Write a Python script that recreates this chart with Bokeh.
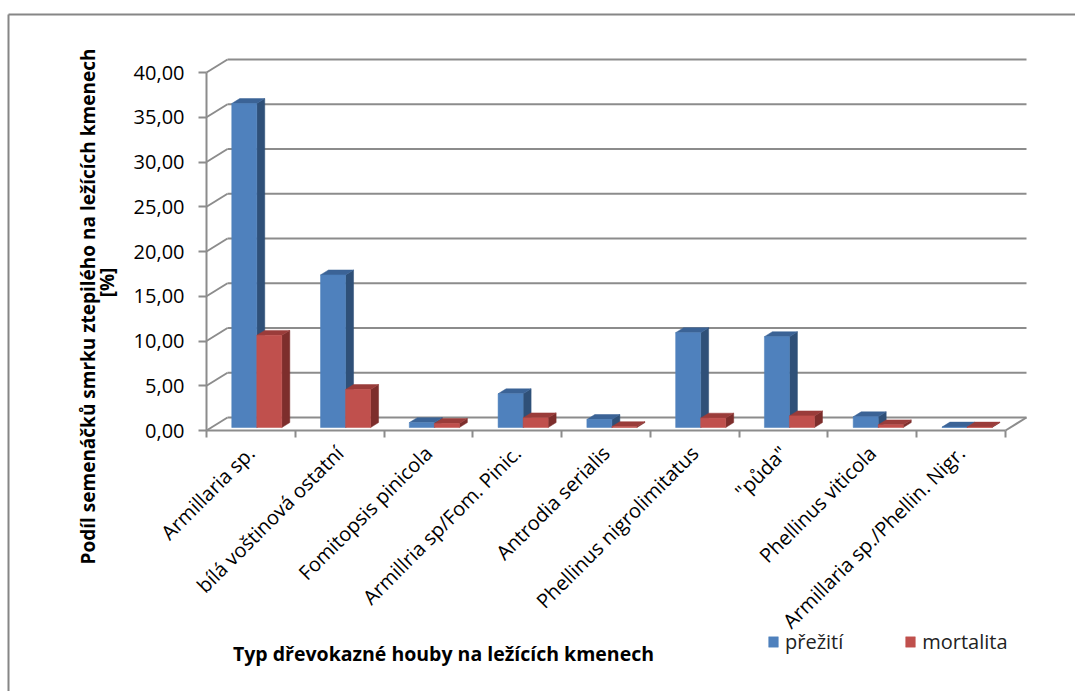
import math

from bokeh.embed import file_html
from bokeh.models import (ColumnDataSource, FixedTicker, Label, Legend,
                          LegendItem, LinearAxis, Range1d)
from bokeh.plotting import figure
from bokeh.resources import INLINE

# ---- data -----------------------------------------------------------------
categories = [
    "Armillaria sp.",
    "bílá voštinová ostatní",
    "Fomitopsis pinicola",
    "Armillria sp/Fom. Pinic.",
    "Antrodia serialis",
    "Phellinus nigrolimitatus",
    "\"půda\"",
    "Phellinus viticola",
    "Armillaria sp./Phellin. Nigr.",
]
prezili = [36.2, 17.05, 0.55, 3.77, 0.9, 10.6, 10.15, 1.2, 0.05]
mortalita = [10.3, 4.25, 0.45, 1.08, 0.1, 1.05, 1.3, 0.3, 0.05]
series_names = ["přežití", "mortalita"]
y_ticks = [0, 5, 10, 15, 20, 25, 30, 35, 40]
y_tick_labels = ["0,00", "5,00", "10,00", "15,00", "20,00",
                 "25,00", "30,00", "35,00", "40,00"]

# ---- layout (pixels) ---------------------------------------------------------
W, H = 1075, 691
AX_X, AX_Y = 206, 430          # corner of the value and category axes
AXIS_TOP_PX = 72               # pixel row of the top value tick
CAT_RIGHT_PX = 1005            # end of the category axis
n = len(categories)
ppx = (CAT_RIGHT_PX - AX_X) / n            # px per category
ppy = (AX_Y - AXIS_TOP_PX) / y_ticks[-1]   # px per value unit

DX, DY = 21 / ppx, 13 / ppy               # depth of the 3-D box
BAR_D0, BAR_D1 = 0.23, 0.61               # bar depth span (fraction of box)
BAR_OFF, BAR_W = 0.23, 0.282              # bar offset / width in a category

GRID = "#8c8c8c"
FONT = "Open Sans"
BLUE = ("#4f81bd", "#3b6396", "#2f5078")  # front, top, side
RED = ("#c0504d", "#9a3c3a", "#7d2e2c")


def xd(px):
    return (px - AX_X) / ppx


def yd(py):
    return (AX_Y - py) / ppy


# the plotting frame covers the whole canvas; axes sit at fixed data locations
p = figure(width=W, height=H, x_range=Range1d(xd(0), xd(W)),
           y_range=Range1d(yd(H), yd(0)), x_axis_type=None, y_axis_type=None,
           output_backend="svg", toolbar_location=None, min_border=0,
           min_border_left=0, min_border_right=0, min_border_top=0,
           min_border_bottom=0)
p.outline_line_color = None
p.background_fill_color = "white"
p.border_fill_color = "white"

# ---- chart border ----------------------------------------------------------
p.segment(x0=[xd(8), xd(8)], y0=[yd(14), yd(14)], x1=[xd(W + 10), xd(8)],
          y1=[yd(14), yd(H + 10)], line_color="#868686", line_width=2)

# ---- walls of the 3-D box --------------------------------------------------
back = ColumnDataSource(dict(
    x0=[DX] * len(y_ticks), x1=[n + DX] * len(y_ticks),
    y=[v + DY for v in y_ticks]))
p.segment(x0="x0", y0="y", x1="x1", y1="y", source=back,
          line_color=GRID, line_width=2)
side = ColumnDataSource(dict(
    x0=[0] * len(y_ticks), y0=y_ticks,
    x1=[DX] * len(y_ticks), y1=[v + DY for v in y_ticks]))
p.segment(x0="x0", y0="y0", x1="x1", y1="y1", source=side,
          line_color=GRID, line_width=2)
p.segment(x0=[n], y0=[0], x1=[n + DX], y1=[DY], line_color=GRID, line_width=2)


# ---- 3-D bars --------------------------------------------------------------
def bar_faces(values, slot):
    ox, oy = BAR_D0 * DX, BAR_D0 * DY
    ddx, ddy = (BAR_D1 - BAR_D0) * DX, (BAR_D1 - BAR_D0) * DY
    front = dict(left=[], right=[], bottom=[], top=[])
    tops = dict(xs=[], ys=[])
    sides = dict(xs=[], ys=[])
    for i, v in enumerate(values):
        xl = i + BAR_OFF + slot * BAR_W + ox
        xr = xl + BAR_W
        y0, y1 = oy, v + oy
        front["left"].append(xl)
        front["right"].append(xr)
        front["bottom"].append(y0)
        front["top"].append(y1)
        tops["xs"].append([xl, xr, xr + ddx, xl + ddx])
        tops["ys"].append([y1, y1, y1 + ddy, y1 + ddy])
        sides["xs"].append([xr, xr, xr + ddx, xr + ddx])
        sides["ys"].append([y0, y1, y1 + ddy, y0 + ddy])
    return front, tops, sides


renderers = []
for slot, (vals, cols) in enumerate([(prezili, BLUE), (mortalita, RED)]):
    front, tops, sides = bar_faces(vals, slot)
    p.patches(xs="xs", ys="ys", source=ColumnDataSource(sides),
              fill_color=cols[2], line_color=cols[2], line_width=0.5)
    p.patches(xs="xs", ys="ys", source=ColumnDataSource(tops),
              fill_color=cols[1], line_color=cols[1], line_width=0.5)
    r = p.quad(left="left", right="right", bottom="bottom", top="top",
               source=ColumnDataSource(front), fill_color=cols[0],
               line_color=cols[0], line_width=0.5)
    renderers.append(r)

# ---- axes ------------------------------------------------------------------
yax = LinearAxis(fixed_location=0,
                 ticker=FixedTicker(ticks=y_ticks, minor_ticks=[]),
                 bounds=(0, y_ticks[-1]),
                 major_label_overrides=dict(zip(y_ticks, y_tick_labels)))
yax.axis_line_color = GRID
yax.axis_line_width = 2
yax.major_tick_line_color = GRID
yax.major_tick_line_width = 2
yax.major_tick_out = 8
yax.major_tick_in = 0
yax.major_label_standoff = 14
yax.major_label_text_font = FONT
yax.major_label_text_font_size = "20px"
yax.major_label_text_color = "black"
p.add_layout(yax, "left")

centers = [i + 0.5 for i in range(n)]
xax = LinearAxis(fixed_location=0,
                 ticker=FixedTicker(ticks=centers, minor_ticks=list(range(n + 1))),
                 bounds=(0, n),
                 major_label_overrides=dict(zip(centers, categories)))
xax.axis_line_color = GRID
xax.axis_line_width = 2
xax.major_tick_out = 0
xax.major_tick_in = 0
xax.minor_tick_line_color = GRID
xax.minor_tick_line_width = 2
xax.minor_tick_out = 7
xax.minor_tick_in = 0
xax.major_label_orientation = math.pi / 4
xax.major_label_standoff = 12
xax.major_label_text_font = FONT
xax.major_label_text_font_size = "20px"
xax.major_label_text_color = "black"
p.add_layout(xax, "below")

# ---- titles ----------------------------------------------------------------
title_style = dict(text_font=FONT, text_font_style="bold", text_color="black",
                   text_align="center", text_baseline="middle")
p.add_layout(Label(x=xd(87), y=yd(306), angle=math.pi / 2, text_font_size="19px",
                   text="Podíl semenáčků smrku ztepilého na ležících kmenech",
                   **title_style))
p.add_layout(Label(x=xd(106), y=yd(282), angle=math.pi / 2, text_font_size="19px",
                   text="[%]", **title_style))
p.add_layout(Label(x=xd(443), y=yd(653), text_font_size="19.5px",
                   text="Typ dřevokazné houby na ležících kmenech", **title_style))

# ---- legend ----------------------------------------------------------------
legend = Legend(items=[LegendItem(label=series_names[0], renderers=[renderers[0]]),
                       LegendItem(label=series_names[1], renderers=[renderers[1]])],
                orientation="horizontal", location=(767, H - 655),
                glyph_width=12, glyph_height=13, label_standoff=6, spacing=61,
                padding=0, margin=0, border_line_color=None,
                background_fill_alpha=0, label_text_font=FONT,
                label_text_font_size="20px", label_text_color="#222222")
p.add_layout(legend, "center")

open("out.html", "w").write(file_html(p, INLINE))
